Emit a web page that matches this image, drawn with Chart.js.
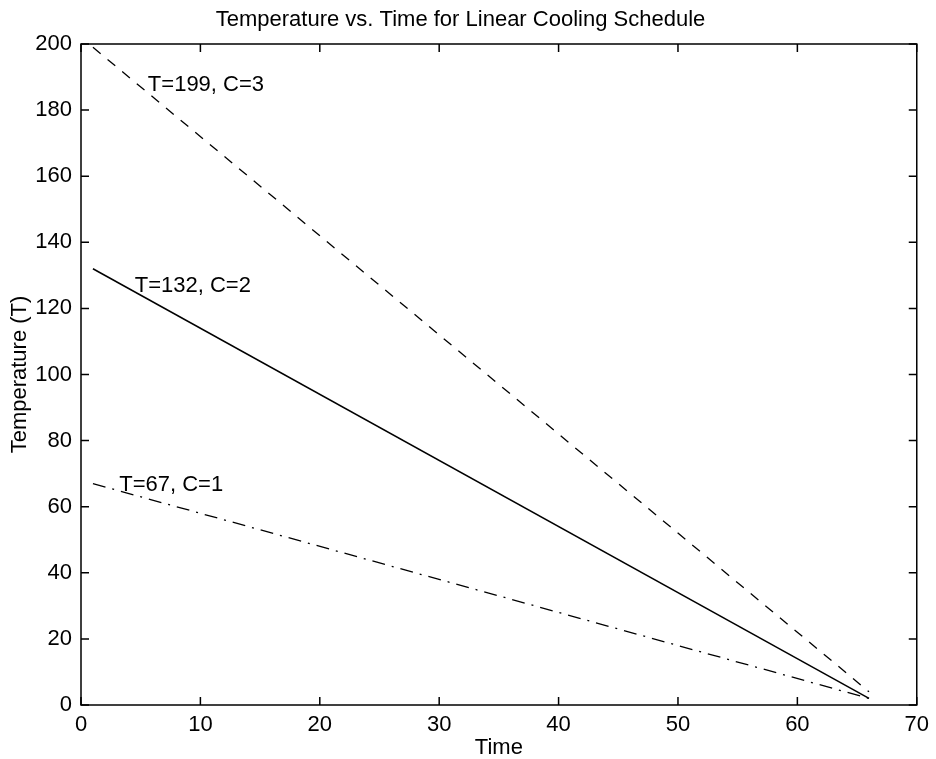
<!DOCTYPE html>
<html>
<head>
<meta charset="utf-8">
<script src="https://cdn.jsdelivr.net/npm/chart.js@4"></script>
<style>
  body { margin: 0; background: #fff; }
  #wrap { width: 936px; height: 759px; }
</style>
</head>
<body>
<div id="wrap"><canvas id="myChart"></canvas></div>
<script>
// start and end of each cooling run (straight lines)
var timeSteps = [1, 66];
var tempC3 = [199, 4];
var tempC2 = [132, 2];
var tempC1 = [67, 2];

var xTicks = [0, 10, 20, 30, 40, 50, 60, 70];
var yTicks = [0, 20, 40, 60, 80, 100, 120, 140, 160, 180, 200];

// text labels next to each line: [x, y, text]
var labels = [
  [5.6, 187.6, "T=199, C=3"],
  [4.5, 126.8, "T=132, C=2"],
  [3.2, 66.6, "T=67, C=1"],
];

function pts(ys) {
  return timeSteps.map(function (t, i) {
    return { x: t, y: ys[i] };
  });
}

var FONT = "Liberation Sans, Arial, Helvetica, sans-serif";
var FS = 22;

// MATLAB style box with inward ticks on all sides
var boxPlugin = {
  id: "box",
  afterDraw: function (chart) {
    var c = chart.ctx;
    var a = chart.chartArea;
    var xs = chart.scales.x;
    var ys = chart.scales.y;
    c.save();
    c.strokeStyle = "#000";
    c.lineWidth = 1.5;
    c.strokeRect(a.left, a.top, a.right - a.left, a.bottom - a.top);
    c.beginPath();
    xTicks.forEach(function (v) {
      var px = xs.getPixelForValue(v);
      c.moveTo(px, a.bottom);
      c.lineTo(px, a.bottom - 8);
      c.moveTo(px, a.top);
      c.lineTo(px, a.top + 8);
    });
    yTicks.forEach(function (v) {
      var py = ys.getPixelForValue(v);
      c.moveTo(a.left, py);
      c.lineTo(a.left + 8, py);
      c.moveTo(a.right, py);
      c.lineTo(a.right - 8, py);
    });
    c.stroke();

    c.fillStyle = "#000";
    c.font = FS + "px " + FONT;
    c.textBaseline = "middle";
    c.textAlign = "left";
    labels.forEach(function (l) {
      c.fillText(l[2], xs.getPixelForValue(l[0]), ys.getPixelForValue(l[1]));
    });
    c.restore();
  },
};

const ctx = document.getElementById("myChart");

new Chart(ctx, {
  type: "line",
  data: {
    datasets: [
      {
        label: "T=199, C=3",
        data: pts(tempC3),
        borderColor: "#000",
        borderWidth: 1.3,
        borderDash: [10, 9],
        pointRadius: 0,
        fill: false,
      },
      {
        label: "T=132, C=2",
        data: pts(tempC2),
        borderColor: "#000",
        borderWidth: 1.5,
        pointRadius: 0,
        fill: false,
      },
      {
        label: "T=67, C=1",
        data: pts(tempC1),
        borderColor: "#000",
        borderWidth: 1.3,
        borderDash: [13, 7, 2, 7],
        pointRadius: 0,
        fill: false,
      },
    ],
  },
  options: {
    responsive: true,
    maintainAspectRatio: false,
    animation: false,
    layout: { padding: { left: 0, right: 15, top: 0, bottom: 0 } },
    scales: {
      x: {
        type: "linear",
        min: 0,
        max: 70,
        afterFit: function (scale) {
          scale.height = 54;
        },
        afterBuildTicks: function (scale) {
          scale.ticks = xTicks.map(function (v) {
            return { value: v };
          });
        },
        border: { display: false },
        grid: { display: false, drawTicks: false },
        ticks: {
          color: "#000",
          padding: 7,
          maxRotation: 0,
          font: { family: FONT, size: FS },
        },
        title: {
          display: true,
          text: "Time",
          color: "#000",
          font: { family: FONT, size: FS },
          padding: { top: 0, bottom: -2 },
        },
      },
      y: {
        type: "linear",
        min: 0,
        max: 200,
        afterFit: function (scale) {
          scale.width = 81;
        },
        afterBuildTicks: function (scale) {
          scale.ticks = yTicks.map(function (v) {
            return { value: v };
          });
        },
        border: { display: false },
        grid: { display: false, drawTicks: false },
        ticks: {
          color: "#000",
          padding: 9,
          font: { family: FONT, size: FS },
        },
        title: {
          display: true,
          text: "Temperature (T)",
          color: "#000",
          font: { family: FONT, size: FS },
          padding: { top: 7, bottom: 0 },
        },
      },
    },
    plugins: {
      legend: { display: false },
      tooltip: { enabled: false },
      title: {
        display: true,
        text: "Temperature vs. Time for Linear Cooling Schedule",
        color: "#000",
        font: { family: FONT, size: FS, weight: "normal" },
        padding: { top: 7, bottom: 10.6 },
      },
    },
  },
  plugins: [boxPlugin],
});
</script>
</body>
</html>
